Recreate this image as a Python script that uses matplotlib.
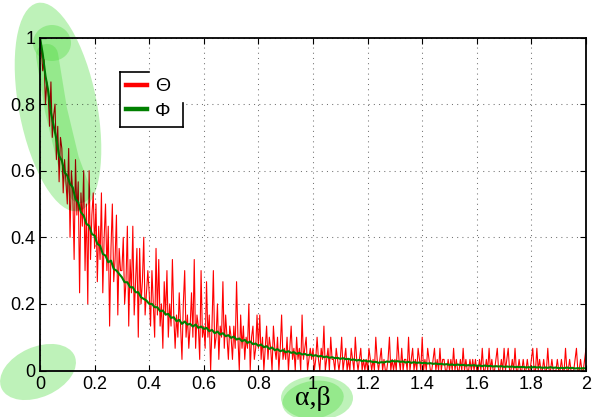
import numpy as np
import matplotlib
matplotlib.use('Agg')
import matplotlib.pyplot as plt
from matplotlib.lines import Line2D
from matplotlib.patches import Ellipse, Rectangle

plt.rcParams['font.family'] = ['Liberation Sans', 'DejaVu Sans']

W, H = 592, 417

# Theta: hits per 0.005-wide bin on [0, 2], out of N_RUNS runs
N_RUNS = 30
theta_counts = [
    30, 29, 27, 28, 24, 26, 25, 22, 26, 21, 23, 24, 19, 22, 17, 21, 20, 16, 19, 17,
    15, 20, 12, 18, 16, 10, 19, 14, 17, 7, 16, 13, 18, 9, 15, 6, 18, 10, 14, 16,
    11, 15, 8, 13, 10, 16, 7, 12, 15, 9, 13, 4, 11, 15, 8, 10, 14, 5, 11, 9,
    9, 12, 6, 8, 13, 4, 10, 7, 13, 5, 8, 11, 3, 11, 6, 8, 12, 5, 7, 9,
    7, 4, 9, 6, 3, 11, 5, 10, 4, 6, 2, 8, 5, 9, 3, 6, 4, 10, 5, 2,
    5, 3, 7, 4, 1, 6, 9, 3, 5, 2, 4, 7, 3, 10, 2, 5, 4, 1, 9, 3,
    4, 2, 8, 3, 5, 0, 4, 9, 2, 3, 6, 1, 4, 3, 8, 2, 5, 3, 1, 4,
    3, 1, 4, 2, 8, 3, 0, 5, 2, 4, 1, 3, 2, 6, 0, 3, 4, 1, 2, 5,
    2, 5, 1, 3, 0, 2, 4, 1, 3, 2, 0, 4, 2, 1, 3, 0, 2, 5, 1, 2,
    1, 3, 0, 2, 4, 1, 2, 0, 3, 1, 2, 0, 5, 1, 2, 3, 0, 1, 2, 1,
    2, 0, 1, 3, 1, 0, 2, 1, 4, 0, 1, 2, 0, 3, 1, 1, 0, 2, 1, 0,
    1, 3, 0, 1, 2, 0, 1, 0, 2, 1, 0, 3, 1, 0, 1, 2, 0, 1, 0, 1,
    0, 2, 1, 0, 1, 0, 3, 1, 0, 1, 2, 0, 1, 0, 0, 1, 3, 0, 1, 0,
    1, 0, 3, 1, 0, 2, 0, 1, 1, 0, 3, 0, 1, 2, 0, 1, 0, 2, 1, 0,
    3, 0, 1, 0, 2, 1, 0, 0, 1, 2, 0, 1, 0, 2, 0, 1, 1, 0, 0, 1,
    0, 1, 0, 2, 0, 1, 0, 0, 1, 0, 2, 0, 1, 0, 0, 1, 0, 1, 0, 1,
    0, 0, 1, 0, 2, 0, 0, 1, 0, 2, 0, 1, 0, 0, 1, 2, 0, 0, 1, 0,
    2, 0, 1, 2, 0, 0, 1, 0, 2, 0, 0, 1, 0, 0, 1, 0, 0, 1, 0, 0,
    1, 2, 0, 0, 2, 0, 1, 0, 0, 1, 0, 0, 2, 0, 0, 1, 0, 0, 0, 1,
    0, 0, 1, 0, 0, 2, 0, 0, 1, 0, 0, 0, 1, 2, 0, 0, 1, 0, 0, 1,
    2,
]

# Phi: averaged curve, one value every 0.01
phi = [
    1.000, 0.950, 0.885, 0.840, 0.775, 0.735, 0.695, 0.645, 0.630, 0.595,
    0.585, 0.560, 0.550, 0.515, 0.505, 0.475, 0.465, 0.440, 0.435, 0.410,
    0.405, 0.380, 0.375, 0.350, 0.345, 0.325, 0.330, 0.305, 0.300, 0.290,
    0.280, 0.265, 0.265, 0.250, 0.250, 0.235, 0.235, 0.220, 0.215, 0.210,
    0.200, 0.200, 0.190, 0.190, 0.178, 0.180, 0.168, 0.170, 0.158, 0.160,
    0.148, 0.152, 0.140, 0.147, 0.138, 0.140, 0.132, 0.138, 0.128, 0.132,
    0.125, 0.128, 0.118, 0.122, 0.112, 0.117, 0.108, 0.112, 0.103, 0.106,
    0.098, 0.102, 0.093, 0.096, 0.088, 0.092, 0.083, 0.087, 0.079, 0.081,
    0.074, 0.078, 0.070, 0.073, 0.065, 0.069, 0.061, 0.064, 0.058, 0.061,
    0.055, 0.058, 0.053, 0.055, 0.050, 0.053, 0.048, 0.050, 0.046, 0.048,
    0.044, 0.046, 0.042, 0.044, 0.040, 0.042, 0.038, 0.040, 0.037, 0.038,
    0.035, 0.037, 0.034, 0.035, 0.032, 0.033, 0.030, 0.032, 0.028, 0.030,
    0.027, 0.028, 0.025, 0.026, 0.023, 0.025, 0.024, 0.027, 0.026, 0.029,
    0.027, 0.028, 0.026, 0.027, 0.024, 0.026, 0.023, 0.025, 0.023, 0.024,
    0.022, 0.023, 0.021, 0.022, 0.020, 0.021, 0.019, 0.020, 0.018, 0.019,
    0.017, 0.018, 0.016, 0.018, 0.016, 0.017, 0.015, 0.016, 0.015, 0.016,
    0.014, 0.015, 0.013, 0.015, 0.013, 0.014, 0.012, 0.013, 0.012, 0.013,
    0.011, 0.012, 0.011, 0.012, 0.010, 0.011, 0.010, 0.011, 0.009, 0.010,
    0.009, 0.011, 0.009, 0.010, 0.008, 0.009, 0.008, 0.010, 0.008, 0.009,
    0.007, 0.008, 0.007, 0.009, 0.007, 0.008, 0.006, 0.007, 0.006, 0.007,
    0.006,
]

x_ticks = [0, 0.2, 0.4, 0.6, 0.8, 1, 1.2, 1.4, 1.6, 1.8, 2]
x_tick_labels = ['0', '0.2', '0.4', '0.6', '0.8', '1', '1.2', '1.4', '1.6', '1.8', '2']
y_ticks = [0, 0.2, 0.4, 0.6, 0.8, 1]
y_tick_labels = ['0', '0.2', '0.4', '0.6', '0.8', '1']

theta_x = np.linspace(0, 2, len(theta_counts))
theta = np.array(theta_counts) / N_RUNS
phi_x = np.linspace(0, 2, len(phi))

fig = plt.figure(figsize=(W / 100, H / 100), dpi=100)
ax = fig.add_axes([40 / W, (H - 370.5) / H, 546 / W, 333 / H])

ax.plot(theta_x, theta, color='#ff0000', lw=0.8)
ax.plot(phi_x, phi, color='#008000', lw=1.5)

ax.set_xlim(0, 2)
ax.set_ylim(0, 1)
ax.set_xticks(x_ticks, x_tick_labels)
ax.set_yticks(y_ticks, y_tick_labels)
ax.tick_params(direction='in', length=4, width=0.8, top=True, right=True, labelsize=13)
ax.tick_params(axis='x', pad=4)
ax.tick_params(axis='y', pad=3.5)
ax.grid(True, linestyle=(0, (1, 4)), color='0.45', lw=0.75)
ax.set_axisbelow(True)
for s in ax.spines.values():
    s.set_linewidth(1.3)

ax.set_xlabel('α,β', family=['Liberation Serif', 'DejaVu Serif'], fontsize=20, va='baseline')
ax.xaxis.set_label_coords(0.5, -(405 - 370.5) / 333)

# overlay axes in pixel units for the legend box
pix = fig.add_axes([0, 0, 1, 1], zorder=5)
pix.set_xlim(0, W)
pix.set_ylim(H, 0)
pix.axis('off')
pix.add_patch(Rectangle((120, 72), 63, 55, facecolor='white', edgecolor='none', zorder=1))
frame = dict(color='black', lw=1.2, zorder=6, solid_capstyle='projecting')
pix.plot([120, 149], [72, 72], **frame)
pix.plot([120, 120], [72, 127], **frame)
pix.plot([120, 183], [127, 127], **frame)
pix.plot([183, 183], [127, 103], **frame)

handles = [Line2D([], [], color='#ff0000', lw=3.2, label='Θ'),
           Line2D([], [], color='#008000', lw=3.2, label='Φ')]
pix.legend(handles=handles, loc='upper left', bbox_to_anchor=(120, 72),
           bbox_transform=pix.transData, frameon=False, fontsize=14,
           handlelength=1.1, handletextpad=0.4, labelspacing=0.35,
           borderpad=0.3, borderaxespad=0)

fig.canvas.draw()
base = np.asarray(fig.canvas.buffer_rgba())[:, :, :3].astype(float) / 255

# highlighter marks, multiplied onto the plot
hfig = plt.figure(figsize=(W / 100, H / 100), dpi=100)
hax = hfig.add_axes([0, 0, 1, 1])
hax.set_xlim(0, W)
hax.set_ylim(H, 0)
hax.axis('off')
hl = '#4ddb3e'
hax.add_patch(Ellipse((58, 107), 212, 78, angle=79, facecolor=hl, edgecolor='none', alpha=0.36))
hax.plot([47, 56, 68, 80], [55, 110, 160, 192], color=hl, alpha=0.36, lw=16, solid_capstyle='round')
hax.add_patch(Ellipse((52, 43), 38, 36, facecolor=hl, edgecolor='none', alpha=0.36))
hax.add_patch(Ellipse((38, 372), 80, 50, angle=-24, facecolor=hl, edgecolor='none', alpha=0.36))
hax.add_patch(Ellipse((317, 398), 72, 44, facecolor=hl, edgecolor='none', alpha=0.36))
hax.add_patch(Ellipse((313, 400), 62, 38, angle=-10, facecolor=hl, edgecolor='none', alpha=0.36))
hfig.canvas.draw()
marks = np.asarray(hfig.canvas.buffer_rgba())[:, :, :3].astype(float) / 255

plt.imsave('out.png', np.clip(base * marks, 0, 1))
